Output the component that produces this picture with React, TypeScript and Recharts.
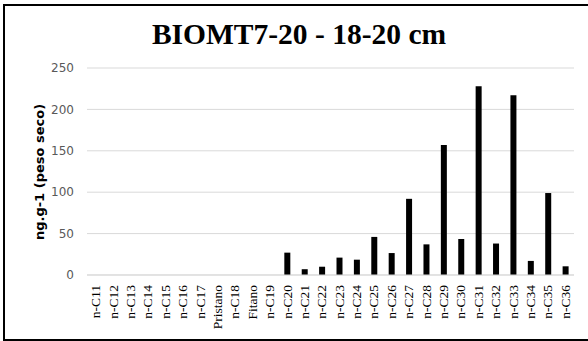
import React from "react";
import { BarChart, Bar, XAxis, YAxis, CartesianGrid } from "recharts";

// === data ===
const compounds = [
  "n-C11", "n-C12", "n-C13", "n-C14", "n-C15", "n-C16", "n-C17", "Pristano",
  "n-C18", "Fitano", "n-C19", "n-C20", "n-C21", "n-C22", "n-C23", "n-C24",
  "n-C25", "n-C26", "n-C27", "n-C28", "n-C29", "n-C30", "n-C31", "n-C32",
  "n-C33", "n-C34", "n-C35", "n-C36",
];
const concentration = [
  0, 0, 0, 0, 0, 0, 0, 0,
  0, 0, 0, 27, 7, 10, 21, 18.5,
  46, 26.5, 92, 37, 157, 43.5, 228, 38,
  217, 17, 99, 10.5,
];
const yTicks = [0, 50, 100, 150, 200, 250];

const data = compounds.map((name, i) => ({ name, value: concentration[i] }));

const XTick = (props: any) => {
  const { x, y, payload } = props;
  const ty = y + 2;
  return (
    <text
      x={x}
      y={ty}
      transform={`rotate(-90, ${x}, ${ty})`}
      textAnchor="end"
      dominantBaseline="central"
      fontFamily="'Liberation Serif', 'Times New Roman', serif"
      fontSize={13.5}
      fill="#000"
    >
      {payload.value}
    </text>
  );
};

const YLabel = () => (
  <text
    x={39}
    y={172}
    transform="rotate(-90, 39, 172)"
    textAnchor="middle"
    dominantBaseline="central"
    fontFamily="'DejaVu Sans', sans-serif"
    fontWeight="bold"
    fontSize={13}
    fill="#000"
  >
    ng.g-1 (peso seco)
  </text>
);

export default function App() {
  return (
    <div
      style={{
        position: "fixed",
        left: 0,
        top: 0,
        width: 588,
        height: 341,
        overflow: "hidden",
        background: "#fff",
      }}
    >
      <div
        style={{
          position: "absolute",
          left: 3,
          top: 4,
          width: 620,
          height: 333,
          border: "2px solid #000",
        }}
      />
      <div
        style={{
          position: "absolute",
          left: 0,
          top: 14,
          width: 598,
          textAlign: "center",
          fontFamily: "'Liberation Serif', 'Times New Roman', serif",
          fontWeight: "bold",
          fontSize: 29.5,
          lineHeight: "40px",
          color: "#000",
        }}
      >
        BIOMT7-20 - 18-20 cm
      </div>
      <div style={{ position: "absolute", left: 0, top: 0 }}>
        <BarChart
          width={588}
          height={341}
          data={data}
          margin={{ top: 68, right: 14, left: 0, bottom: 0 }}
          barCategoryGap={0}
        >
          <CartesianGrid vertical={false} stroke="#d9d9d9" />
          <XAxis
            dataKey="name"
            interval={0}
            height={66}
            tick={<XTick />}
            tickLine={false}
            axisLine={{ stroke: "#d9d9d9" }}
          />
          <YAxis
            width={87}
            domain={[0, 250]}
            ticks={yTicks}
            tickLine={false}
            axisLine={false}
            tickMargin={7}
            tick={{ fill: "#595959", fontSize: 12, fontFamily: "'DejaVu Sans', sans-serif" }}
            label={{ content: <YLabel /> }}
          />
          <Bar dataKey="value" fill="#000" barSize={6} isAnimationActive={false} />
        </BarChart>
      </div>
    </div>
  );
}
